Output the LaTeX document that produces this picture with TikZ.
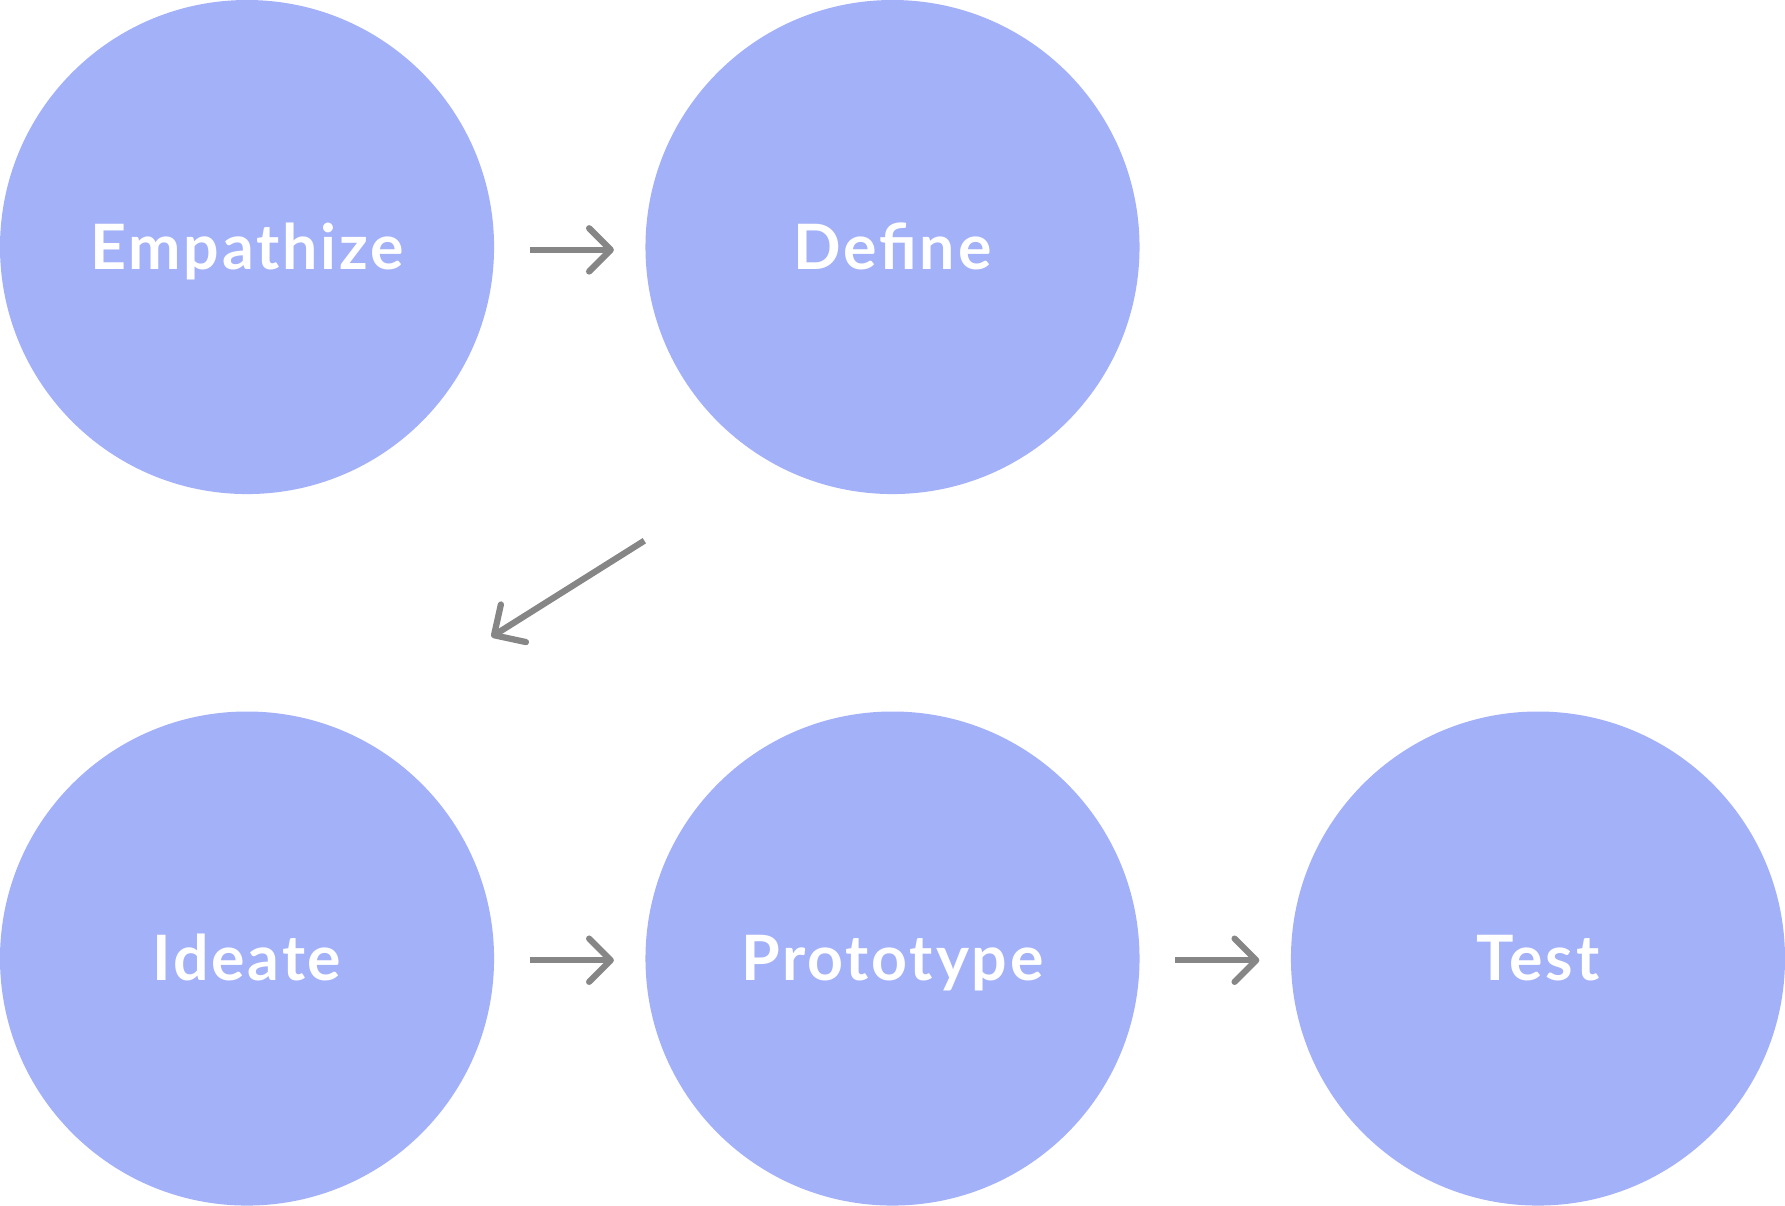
\documentclass[tikz,border=0pt]{standalone}
\usepackage{fontspec}
\setmainfont{Lato}[BoldFeatures={LetterSpace=4.5}]
\usetikzlibrary{calc}
\definecolor{phase}{RGB}{163,177,249}
\definecolor{arrowgray}{RGB}{134,134,134}
\tikzset{
  x=1pt,y=-1pt,
  phasenode/.style={circle,fill=phase,draw=none,minimum size=434pt,inner sep=0pt,
    text=white,font=\fontsize{55}{60}\selectfont\bfseries,text height=39pt,text depth=0pt},
  flowline/.style={draw=arrowgray,line width=5.5pt,line cap=butt},
  flowhead/.style={draw=arrowgray,line width=5.5pt,line cap=round,line join=round},
}
\begin{document}
\begin{tikzpicture}
\useasboundingbox (0,0) rectangle (1568,1059);
\node[phasenode] (emp) at (217,217) {Empathize};
\node[phasenode] (def) at (784,217) {Define};
\node[phasenode] (ide) at (217,842) {Ideate};
\node[phasenode] (pro) at (784,842) {Prototype};
\node[phasenode] (tst) at (1351,842) {Test};
% Empathize -> Define
\coordinate (a1s) at (465.5,219.5);
\coordinate (a1t) at (536.5,219.5);
\draw[flowline] (a1s) -- (a1t);
\draw[flowhead] ($(a1t)+(-19,-19)$) -- (a1t) -- ($(a1t)+(-19,19)$);
% Define -> Ideate
\coordinate (a2s) at (566,475);
\coordinate (a2t) at (434,558);
\draw[flowline] (a2s) -- (a2t);
\draw[flowhead] (440,531) -- (a2t) -- (462,564);
% Ideate -> Prototype
\coordinate (a3s) at (465.5,843.5);
\coordinate (a3t) at (536.5,843.5);
\draw[flowline] (a3s) -- (a3t);
\draw[flowhead] ($(a3t)+(-19,-19)$) -- (a3t) -- ($(a3t)+(-19,19)$);
% Prototype -> Test
\coordinate (a4s) at (1032.5,843.5);
\coordinate (a4t) at (1103.5,843.5);
\draw[flowline] (a4s) -- (a4t);
\draw[flowhead] ($(a4t)+(-19,-19)$) -- (a4t) -- ($(a4t)+(-19,19)$);
\end{tikzpicture}
\end{document}
